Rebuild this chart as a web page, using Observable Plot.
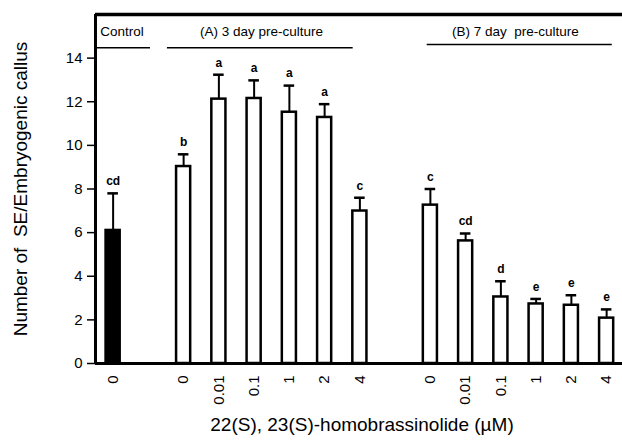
<!DOCTYPE html>
<html><head><meta charset="utf-8">
<script src="https://cdn.jsdelivr.net/npm/d3@7"></script>
<script src="https://cdn.jsdelivr.net/npm/@observablehq/plot@0.6"></script>
<style>
body{margin:0;background:#fff}
svg{font-family:"Liberation Sans",Arial,sans-serif}
</style>
</head><body><div id="chart"></div>
<script>
// ---- data ----
const groups = ["Control", "(A) 3 day pre-culture", "(B) 7 day  pre-culture"];
const groupOf = [0, 1, 1, 1, 1, 1, 1, 2, 2, 2, 2, 2, 2];
const doseLabels = ["0", "0", "0.01", "0.1", "1", "2", "4", "0", "0.01", "0.1", "1", "2", "4"];
const means = [6.1, 9.03, 12.12, 12.15, 11.52, 11.28, 6.99, 7.26, 5.62, 3.05, 2.73, 2.67, 2.08];
const errTops = [7.8, 9.59, 13.24, 12.98, 12.74, 11.89, 7.6, 8.0, 5.96, 3.77, 2.96, 3.13, 2.48];
const letters = ["cd", "b", "a", "a", "a", "a", "c", "c", "cd", "d", "e", "e", "e"];
const yTicks = [0, 2, 4, 6, 8, 10, 12, 14];
const xLabel = "22(S), 23(S)-homobrassinolide (\u00b5M)";
const yLabel = "Number of  SE/Embryogenic callus";

// ---- build table ----
const rows = means.map((m, i) => ({
  slot: i + groupOf[i],
  group: groupOf[i],
  dose: doseLabels[i],
  mean: m,
  err: errTops[i],
  letter: letters[i]
}));
const labelBySlot = new Map(rows.map(d => [d.slot, d.dose]));

// header spans (layout, in slot units)
const headerLayout = [
  {x1: -0.5, x2: 1.06, y: 14.47, tx: 0.25},
  {x1: 1.54, x2: 6.81, y: 14.47, tx: 4.21},
  {x1: 8.91, x2: 14.16, y: 14.63, tx: 11.41}
];
const headers = groups.map((g, i) => ({text: g, ...headerLayout[i]}));

const halfBar = 0.2, halfCap = 0.15;

const chart = Plot.plot({
  width: 622, height: 440,
  marginLeft: 95, marginRight: 0, marginTop: 14, marginBottom: 77,
  style: {fontFamily: "Liberation Sans, Arial, sans-serif", background: "white", color: "black"},
  x: {type: "linear", domain: [-0.5, 14.45]},
  y: {domain: [0, 16]},
  marks: [
    Plot.axisY({ticks: yTicks, tickSize: 8, tickPadding: 5, fontSize: 15, label: null, strokeWidth: 1.5}),
    Plot.axisX({ticks: rows.map(d => d.slot), tickFormat: d => labelBySlot.get(d), tickRotate: -90,
      tickSize: 0, tickPadding: 12, fontSize: 15, label: null}),
    Plot.rectY(rows.filter(d => d.group !== 0), {x1: d => d.slot - halfBar, x2: d => d.slot + halfBar, y1: 0, y2: "mean",
      fill: "white", stroke: "black", strokeWidth: 2.5}),
    Plot.rectY(rows.filter(d => d.group === 0), {x1: d => d.slot - halfBar, x2: d => d.slot + halfBar, y1: 0, y2: "mean",
      fill: "black", stroke: "black", strokeWidth: 2.5}),
    Plot.ruleX(rows, {x: "slot", y1: "mean", y2: "err", strokeWidth: 2}),
    Plot.ruleY(rows, {y: "err", x1: d => d.slot - halfCap, x2: d => d.slot + halfCap, strokeWidth: 2.5}),
    Plot.text(rows, {x: "slot", y: "err", text: "letter", dy: -12, fontSize: 12, fontWeight: "bold"}),
    Plot.ruleY(headers, {x1: "x1", x2: "x2", y: "y", strokeWidth: 1.5}),
    Plot.text(headers, {x: "tx", y: 15, text: "text", textAnchor: "middle", lineAnchor: "bottom", fontSize: 13.5}),
    Plot.ruleY([0], {strokeWidth: 3}),
    Plot.ruleY([16], {strokeWidth: 3.5}),
    Plot.ruleX([-0.5], {strokeWidth: 3}),
    Plot.text([xLabel], {text: d => d, frameAnchor: "bottom", textAnchor: "middle", dy: 67, dx: 3, fontSize: 19}),
    Plot.text([yLabel], {text: d => d, frameAnchor: "left", textAnchor: "middle", dx: -75, rotate: -90, fontSize: 19})
  ]
});
document.getElementById("chart").appendChild(chart);
</script>
</body></html>
